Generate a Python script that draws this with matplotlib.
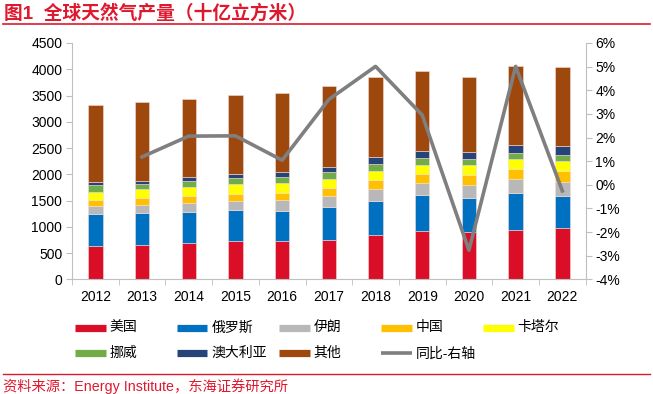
import numpy as np
import matplotlib
matplotlib.use("Agg")
import matplotlib.pyplot as plt
from matplotlib.lines import Line2D

plt.rcParams['font.family'] = ['Liberation Sans', 'Noto Sans CJK SC', 'DejaVu Sans']

years = ['2012', '2013', '2014', '2015', '2016', '2017', '2018', '2019', '2020', '2021', '2022']

usa = [641, 650, 698, 736, 725, 744, 839, 921, 908, 946, 973]
russia = [610, 610, 585, 586, 583, 629, 660, 687, 648, 694, 621]
iran = [153, 162, 178, 177, 204, 221, 229, 228, 248, 267, 256]
china = [108, 123, 133, 133, 139, 147, 166, 178, 191, 202, 221]
qatar = [159, 171, 172, 185, 180, 177, 177, 171, 179, 179, 185]
norway = [127, 107, 114, 115, 114, 122, 128, 128, 114, 115, 114]
australia = [52, 57, 65, 76, 95, 107, 127, 139, 139, 152, 159]
other = [1474, 1488, 1487, 1501, 1507, 1526, 1532, 1520, 1431, 1507, 1514]

yoy = [None, 1.18, 2.06, 2.07, 1.04, 3.61, 5.01, 2.95, -2.77, 5.01, -0.26]

series = [
    ('美国', usa, '#DA0F27'),
    ('俄罗斯', russia, '#0070C0'),
    ('伊朗', iran, '#B8B8B8'),
    ('中国', china, '#FFC000'),
    ('卡塔尔', qatar, '#FFFF00'),
    ('挪威', norway, '#70AD47'),
    ('澳大利亚', australia, '#264478'),
    ('其他', other, '#9E480E'),
]
line_color = '#7F7F7F'
red = '#E0182D'

W, H = 653, 394
fig = plt.figure(figsize=(W / 100, H / 100), dpi=100)

def fx(px):
    return px / W

def fy(py):
    return 1 - py / H

ax = fig.add_axes([fx(72), fy(279.3), fx(585.7) - fx(72), fy(43) - fy(279.3)])

x = np.arange(len(years))
bottom = np.zeros(len(years))
for name, vals, c in series:
    ax.bar(x, vals, width=0.31, bottom=bottom, color=c, edgecolor='#F2DCDB', linewidth=0.4)
    bottom += np.array(vals)

ax.set_xlim(-0.5, len(years) - 0.5)
ax.set_ylim(0, 4500)
ax.set_yticks(np.arange(0, 4501, 500))
ax.set_xticks(x)
ax.set_xticklabels(years)
ax.set_xticks(np.arange(-0.5, len(years), 1), minor=True)
ax.tick_params(axis='x', which='major', length=0, labelsize=10, pad=8)
ax.tick_params(axis='x', which='minor', length=4, color='#BFBFBF')
ax.tick_params(axis='y', length=4, color='#BFBFBF', labelsize=10, pad=3)
ax.spines['top'].set_visible(False)
ax.spines['right'].set_visible(False)
for s in ['left', 'bottom']:
    ax.spines[s].set_color('#BFBFBF')

ax2 = ax.twinx()
xs = [i for i, v in enumerate(yoy) if v is not None]
ys = [v for v in yoy if v is not None]
ax2.plot(xs, ys, color=line_color, linewidth=2.6)
ax2.set_ylim(-4, 6)
ax2.set_yticks(np.arange(-4, 7, 1))
ax2.set_yticklabels([f'{v}%' for v in range(-4, 7)])
ax2.tick_params(axis='y', length=4, color='#BFBFBF', labelsize=10, pad=3)
ax2.spines['top'].set_visible(False)
ax2.spines['left'].set_visible(False)
ax2.spines['bottom'].set_visible(False)
ax2.spines['right'].set_color('#BFBFBF')

# legend, laid out like the source (uniform columns)
entries = [(n, c, 5.2) for n, _, c in series] + [('同比-右轴', line_color, 2.6)]
for i, (name, c, lw) in enumerate(entries):
    col, row = i % 5, i // 5
    x0 = 74.5 + 102 * col
    yy = 327.5 + 25.8 * row
    fig.add_artist(Line2D([fx(x0), fx(x0 + 31)], [fy(yy), fy(yy)], color=c, lw=lw,
                          solid_capstyle='butt', transform=fig.transFigure))
    fig.text(fx(x0 + 35), fy(yy), name, fontsize=10, va='center', ha='left')

# title and footer
fig.text(fx(4), fy(13), '图1  全球天然气产量（十亿立方米）', fontsize=13.5, fontweight='bold',
         color=red, va='center', ha='left')
fig.add_artist(Line2D([fx(3), fx(650)], [fy(23.5), fy(23.5)], color=red, lw=1.2, transform=fig.transFigure))
fig.add_artist(Line2D([fx(3), fx(650)], [fy(374), fy(374)], color=red, lw=1.0, transform=fig.transFigure))
fig.text(fx(3), fy(386), '资料来源：Energy Institute，东海证券研究所', fontsize=10.3, color=red,
         va='center', ha='left')

fig.savefig('out.png', dpi=100)
